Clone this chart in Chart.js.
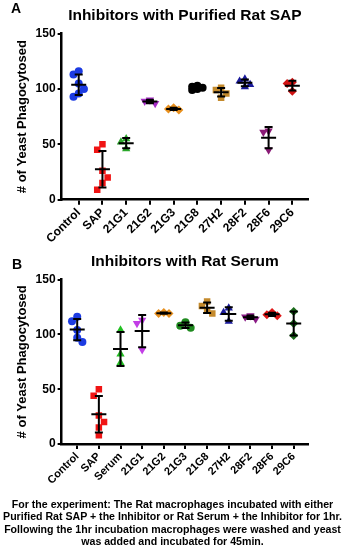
<!DOCTYPE html>
<html><head><meta charset="utf-8">
<script src="https://cdn.jsdelivr.net/npm/chart.js@4.4.0/dist/chart.umd.min.js"></script>
<style>
html,body{margin:0;padding:0;background:#fff;width:345px;height:550px;overflow:hidden;font-family:'Liberation Sans',Arial,sans-serif;}
#wrap{position:relative;width:345px;height:550px;}
canvas{position:absolute;left:0;}
.letter{position:absolute;font-weight:bold;font-size:14px;line-height:14px;color:#000;}
#caption{position:absolute;left:0;top:498px;width:345px;text-align:center;font-weight:bold;font-size:10.6px;line-height:12.4px;color:#000;white-space:nowrap;}
</style></head><body>
<div id="wrap">
<canvas id="cA" width="345" height="247" style="top:0"></canvas>
<canvas id="cB" width="345" height="242" style="top:246px"></canvas>
<div class="letter" style="left:11px;top:1px">A</div>
<div class="letter" style="left:12px;top:257px">B</div>
<div id="caption">For the experiment: The Rat macrophages incubated with either<br>Purified Rat SAP + the Inhibitor or Rat Serum + the Inhibitor for 1hr.<br>Following the 1hr incubation macrophages were washed and yeast<br>was added and incubated for 45min.</div>
</div>
<script>
// ---------- data: panel A ----------
const catsA = ['Control','SAP','21G1','21G2','21G3','21G8','27H2','28F2','28F6','29C6'];
const controlA = [116, 113, 105, 100, 96, 93];
const sapA     = [50, 45, 26, 20, 15, 9];
const g21G1A   = [55, 52, 46];
const g21G2A   = [90, 89, 87];
const g21G3A   = [83, 82, 81];
const g21G8A   = [103, 102, 100, 99, 101];
const g27H2A   = [101, 99, 96, 92];
const g28F2A   = [109, 107, 104, 102];
const g28F6A   = [62, 61, 45];
const g29C6A   = [106, 105, 98];
// ---------- data: panel B ----------
const catsB = ['Control','SAP','Serum','21G1','21G2','21G3','21G8','27H2','28F2','28F6','29C6'];
const controlB = [116, 112, 104, 97, 93];
const sapB     = [50, 44, 26, 20, 15, 8];
const serumB   = [104, 82, 74];
const g21G1B   = [113, 110, 86];
const g21G2B   = [120, 119, 119];
const g21G3B   = [111, 108, 106];
const g21G8B   = [130, 126, 122, 119];
const g27H2B   = [124, 120, 112];
const g28F2B   = [117, 116, 114];
const g28F6B   = [120, 118, 117];
const g29C6B   = [121, 110, 99];
const yTicks = [0, 50, 100, 150];
const titleA = 'Inhibitors with Purified Rat SAP';
const titleB = 'Inhibitors with Rat Serum';
const yTitle = '# of Yeast Phagocytosed';

// ---------- styles ----------
const stylesA = [
  ['#1c3be2','circle',0],['#f01414','rect',0],['#2aa82a','triangle',0],['#a62cc6','triangle',180],
  ['#e8901e','rectRot',0],['#000000','circle',0],['#c48a2c','rect',0],['#1a1a9c','triangle',0],
  ['#8a1a76','triangle',180],['#d01212','rectRot',0]
];
const stylesB = [
  ['#1c3be2','circle',0],['#f01414','rect',0],['#22c022','triangle',0],['#c23ee6','triangle',180],
  ['#e8901e','rectRot',0],['#1f8a1f','circle',0],['#c48a2c','rect',0],['#1a1a9c','triangle',0],
  ['#8a1a86','triangle',180],['#e01818','rectRot',0],['#1a6a1a','rectRot',0]
];
const radius = { circle: 4, rect: 4.6, rectRot: 4.5, triangle: 4.8 };

// simple deterministic swarm: side-step points that would overlap, alternating sides
function swarm(vals, idx, D, THR){
  const placed = [];
  const order = vals.map((v,k)=>k).sort((a,b)=>vals[b]-vals[a]);
  let side = -1;
  const pts = [];
  order.forEach(k=>{
    const v = vals[k];
    const cands = [0, side, -side];
    let best = null, bestD = -1;
    for(const c of cands){
      const near = placed.filter(p=>p.c===c).map(p=>Math.abs(p.v-v));
      const dmin = near.length ? Math.min(...near) : Infinity;
      if(dmin >= THR){ best = c; break; }
      if(dmin > bestD){ bestD = dmin; best = c; }
    }
    if(best === side) side = -side;
    placed.push({v, c: best});
    pts.push({x: idx + best*D, y: v});
  });
  return pts;
}

function makeDatasets(groups, styles, D){
  return groups.map((vals,i)=>{
    const [col, shape, rot] = styles[i];
    return {
      data: swarm(vals, i, D, 6.5),
      raw: vals, cat: i,
      pointStyle: shape, rotation: rot,
      pointRadius: radius[shape],
      backgroundColor: col, borderColor: col, borderWidth: 0,
      showLine: false
    };
  });
}

const errPlugin = {
  id: 'err',
  afterDatasetsDraw(chart){
    const ctx = chart.ctx, x = chart.scales.x, y = chart.scales.y;
    ctx.save();
    ctx.strokeStyle = '#000';
    ctx.lineWidth = 2;
    chart.data.datasets.forEach(ds=>{
      const v = ds.raw, n = v.length;
      const m = v.reduce((a,b)=>a+b,0)/n;
      const sd = Math.sqrt(v.reduce((a,b)=>a+(b-m)*(b-m),0)/(n-1));
      const cx = x.getPixelForValue(ds.cat);
      const ym = y.getPixelForValue(m), yt = y.getPixelForValue(m+sd), yb = y.getPixelForValue(m-sd);
      ctx.beginPath();
      ctx.moveTo(cx-7.5, ym); ctx.lineTo(cx+7.5, ym);
      ctx.moveTo(cx, yt); ctx.lineTo(cx, yb);
      ctx.moveTo(cx-4, yt); ctx.lineTo(cx+4, yt);
      ctx.moveTo(cx-4, yb); ctx.lineTo(cx+4, yb);
      ctx.stroke();
    });
    ctx.restore();
  }
};

function makeChart(id, cats, groups, styles, title, xFont, D){
  return new Chart(document.getElementById(id), {
    type: 'scatter',
    data: { datasets: makeDatasets(groups, styles, D) },
    plugins: [errPlugin],
    options: {
      responsive: false, animation: false,
      layout: { padding: { left: 15, right: 37, top: 0, bottom: 0 } },
      plugins: {
        legend: { display: false }, tooltip: { enabled: false },
        title: { display: true, text: title, fullSize: false, color: '#000',
                 font: { family: 'Liberation Sans', size: 15.5, weight: 'bold' },
                 padding: { top: 6, bottom: 9 } }
      },
      scales: {
        x: {
          type: 'linear', min: -0.72, max: cats.length - 1 + 0.66,
          afterBuildTicks: s => { s.ticks = cats.map((c,i)=>({ value: i })); },
          ticks: { autoSkip: false, minRotation: 45, maxRotation: 45, padding: 1, color: '#000',
                   font: { family: 'Liberation Sans', size: xFont, weight: 'bold' },
                   callback: v => cats[v] },
          grid: { drawOnChartArea: false, drawTicks: true, tickLength: 5, color: '#000', lineWidth: 2 },
          border: { display: true, color: '#000', width: 2.5 }
        },
        y: {
          min: 0, max: 150,
          afterBuildTicks: s => { s.ticks = yTicks.map(v=>({ value: v })); },
          ticks: { padding: 2, color: '#000', font: { family: 'Liberation Sans', size: 12, weight: 'bold' } },
          grid: { drawOnChartArea: false, drawTicks: true, tickLength: 4, color: '#000', lineWidth: 2 },
          border: { display: true, color: '#000', width: 2.5 },
          title: { display: true, text: yTitle, color: '#000', padding: { top: 0, bottom: 3 },
                   font: { family: 'Liberation Sans', size: 13, weight: 'bold' } }
        }
      }
    }
  });
}

makeChart('cA', catsA, [controlA, sapA, g21G1A, g21G2A, g21G3A, g21G8A, g27H2A, g28F2A, g28F6A, g29C6A], stylesA, titleA, 12, 0.22);
makeChart('cB', catsB, [controlB, sapB, serumB, g21G1B, g21G2B, g21G3B, g21G8B, g27H2B, g28F2B, g28F6B, g29C6B], stylesB, titleB, 11, 0.24);
</script>
</body></html>
